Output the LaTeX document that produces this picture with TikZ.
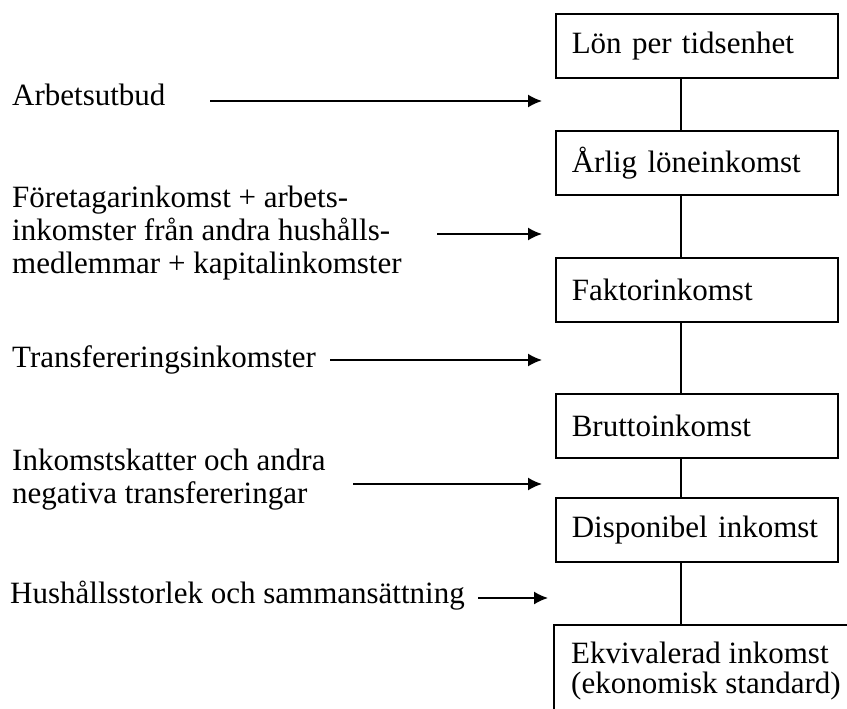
\documentclass[tikz,border=0pt]{standalone}
\usepackage{fontspec}
\setmainfont{Liberation Serif}
\usetikzlibrary{arrows.meta}
\begin{document}
\begin{tikzpicture}[x=1pt,y=-1pt,
  box/.style={draw,line width=1.6pt,anchor=north west,minimum width=282pt,minimum height=64pt,
    text width=250pt,inner xsep=16pt,inner ysep=0pt,align=left,font=\fontsize{31}{34}\selectfont},
  lbl/.style={anchor=base west,inner sep=0pt,align=left,font=\fontsize{31}{33}\selectfont},
  arr/.style={line width=1.6pt,-{Latex[length=14pt,width=13pt]}},
  conn/.style={line width=1.6pt}]
\useasboundingbox (0,0) rectangle (847,709);
\clip (0,0) rectangle (847,709);
% boxes
\node[box] (b1) at (555,13) {Lön per tidsenhet};
\node[box] (b2) at (555,130) {Årlig löneinkomst};
\node[box] (b3) at (555,257) {Faktorinkomst};
\node[box] (b4) at (555,393) {Bruttoinkomst};
\node[box] (b5) at (555,497) {Disponibel inkomst};
\node[box,minimum width=320pt,minimum height=100pt,text width=300pt] (b6) at (553,624) {};
\node[lbl,font=\fontsize{31}{30}\selectfont] (b6t) at (571,693) {Ekvivalerad inkomst\\(ekonomisk standard)};
% connectors
\coordinate (cx) at (681,0);
\draw[conn] (b1.south -| cx) -- (b2.north -| cx);
\draw[conn] (b2.south -| cx) -- (b3.north -| cx);
\draw[conn] (b3.south -| cx) -- (b4.north -| cx);
\draw[conn] (b4.south -| cx) -- (b5.north -| cx);
\draw[conn] (b5.south -| cx) -- (b6.north -| cx);
% labels (base = baseline of last line)
\node[lbl] (l1) at (12,106) {Arbetsutbud};
\node[lbl] (l2) at (12,273) {Företagarinkomst + arbets-\\inkomster från andra hushålls-\\medlemmar + kapitalinkomster};
\node[lbl] (l3) at (12,367) {Transfereringsinkomster};
\node[lbl] (l4) at (12,503) {Inkomstskatter och andra\\negativa transfereringar};
\node[lbl] (l5) at (10,603) {Hushållsstorlek och sammansättning};
% arrows
\coordinate (a1s) at (210,101); \coordinate (a1e) at (542,101);
\coordinate (a2s) at (437,234); \coordinate (a2e) at (542,234);
\coordinate (a3s) at (330,360); \coordinate (a3e) at (542,360);
\coordinate (a4s) at (353,484); \coordinate (a4e) at (542,484);
\coordinate (a5s) at (478,598); \coordinate (a5e) at (548,598);
\draw[arr] (a1s) -- (a1e);
\draw[arr] (a2s) -- (a2e);
\draw[arr] (a3s) -- (a3e);
\draw[arr] (a4s) -- (a4e);
\draw[arr] (a5s) -- (a5e);
\end{tikzpicture}
\end{document}
